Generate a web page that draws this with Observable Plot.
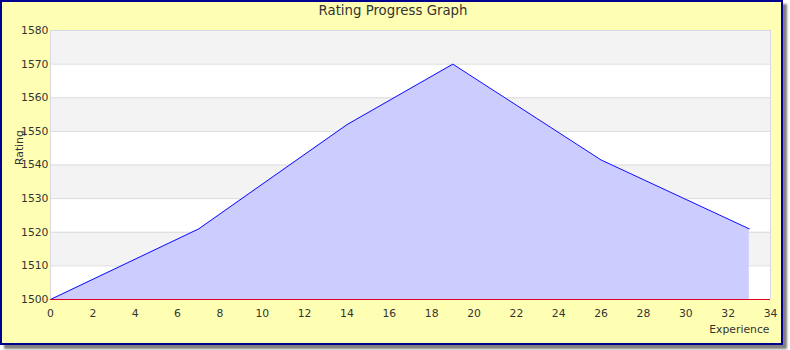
<!DOCTYPE html>
<html>
<head>
<meta charset="utf-8">
<script src="https://cdn.jsdelivr.net/npm/d3@7"></script>
<script src="https://cdn.jsdelivr.net/npm/@observablehq/plot@0.6"></script>
<style>
  html, body { margin: 0; padding: 0; background: #ffffff; }
  #wrap { position: relative; width: 790px; height: 350px; overflow: hidden; }
  #box {
    position: absolute; left: 0; top: 0;
    width: 779px; height: 341px;
    background: #ffffb3;
    border: 2px solid #000090;
    box-shadow: 4px 4px 2px #808080;
  }
  #title {
    position: absolute; left: 0; top: 3px; width: 786px; text-align: center;
    font-family: "DejaVu Sans", sans-serif; font-size: 13.3px; color: #333;
  }
  #chart { position: absolute; left: 0; top: 0; }
</style>
</head>
<body>
<div id="wrap">
  <div id="box"></div>
  <div id="title">Rating Progress Graph</div>
  <div id="chart"></div>
</div>
<script>
const experience = [0, 7, 14, 19, 26, 33];
const rating = [1500, 1521, 1552, 1570, 1541.5, 1521];
const xTicks = [0, 2, 4, 6, 8, 10, 12, 14, 16, 18, 20, 22, 24, 26, 28, 30, 32, 34];
const yTicks = [1500, 1510, 1520, 1530, 1540, 1550, 1560, 1570, 1580];
const greyBandsFrom = [1510, 1530, 1550, 1570];

const data = experience.map((e, i) => ({exp: e, rating: rating[i]}));
const bands = greyBandsFrom.map(v => ({y1: v, y2: v + 10}));

const chart = Plot.plot({
  width: 790,
  height: 350,
  marginLeft: 50,
  marginRight: 20,
  marginTop: 30,
  marginBottom: 51,
  style: {background: "transparent", fontFamily: "DejaVu Sans, sans-serif", fontSize: "10.8px", color: "#333"},
  x: {domain: [0, 34], ticks: xTicks, label: null},
  y: {domain: [1500, 1580], ticks: yTicks, label: null},
  marks: [
    Plot.frame({fill: "white", stroke: "none"}),
    Plot.rectY(bands, {x1: 0, x2: 34, y1: "y1", y2: "y2", fill: "#f3f3f3"}),
    Plot.ruleY(yTicks, {stroke: "#dcdcdc"}),
    Plot.areaY(data, {x: "exp", y1: 1500, y2: "rating", fill: "#ccccff"}),
    Plot.lineY(data, {x: "exp", y: "rating", stroke: "#1010ff", strokeWidth: 1}),
    Plot.ruleX([0], {stroke: "#d8d8e0"}),
    Plot.ruleX([34], {stroke: "#d8d8e0"}),
    Plot.ruleY([1580], {stroke: "#d8d8e0"}),
    Plot.ruleY([1500], {stroke: "#e0002a"}),
    Plot.axisX({ticks: xTicks, tickSize: 0, tickPadding: 10, tickFormat: "d", label: null, fill: "#333"}),
    Plot.axisY({ticks: yTicks, tickSize: 0, tickPadding: 2, tickFormat: "d", label: null, fill: "#333"}),
    Plot.text(["Experience"], {frameAnchor: "bottom-right", dy: 33, dx: -1, text: d => d, textAnchor: "end", fill: "#333"}),
    Plot.text(["Rating"], {frameAnchor: "left", dx: -31, rotate: -90, text: d => d, fill: "#333"})
  ]
});
document.getElementById("chart").appendChild(chart);
</script>
</body>
</html>
